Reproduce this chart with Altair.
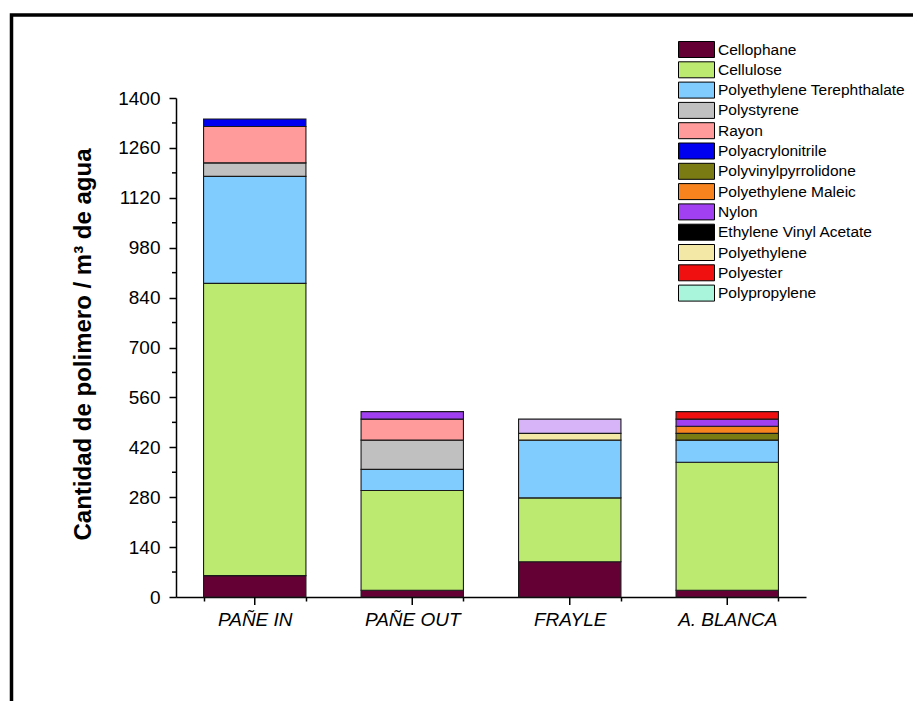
import altair as alt
import pandas as pd

sites = ["PAÑE IN", "PAÑE OUT", "FRAYLE", "A. BLANCA"]
polymers = ["Cellophane", "Cellulose", "Polyethylene Terephthalate", "Polystyrene",
            "Rayon", "Polyacrylonitrile", "Polyvinylpyrrolidone", "Polyethylene Maleic",
            "Nylon", "Ethylene Vinyl Acetate", "Polyethylene", "Polyester", "Polypropylene"]
colors = ["#650035", "#BCE970", "#80CCFF", "#C0C0C0", "#FF9B9B", "#0000F0", "#7B7B14",
          "#F7831F", "#A040F0", "#000000", "#F3E8A6", "#F01010", "#A8F5DC"]

# values per polymer, one per site (PAÑE IN, PAÑE OUT, FRAYLE, A. BLANCA)
cellophane = [60, 19, 99, 19]
cellulose = [820, 280, 179, 359]
pet = [300, 59, 162, 62]
polystyrene = [38, 82, 0, 0]
rayon = [102, 59, 0, 0]
polyacrylonitrile = [21, 0, 0, 0]
polyvinylpyrrolidone = [0, 0, 0, 19]
polyethylene_maleic = [0, 0, 0, 20]
nylon = [0, 21, 0, 20]
eva = [0, 0, 0, 0]
polyethylene = [0, 0, 19, 0]
polyester = [0, 0, 0, 21]
polypropylene = [0, 0, 40, 0]

series = [cellophane, cellulose, pet, polystyrene, rayon, polyacrylonitrile,
          polyvinylpyrrolidone, polyethylene_maleic, nylon, eva, polyethylene,
          polyester, polypropylene]

# the top segment of FRAYLE is drawn in lavender in the original
override_fill = {("FRAYLE", "Polypropylene"): "#D6B4F7"}

y_major = [0, 140, 280, 420, 560, 700, 840, 980, 1120, 1260, 1400]
y_minor = [70, 210, 350, 490, 630, 770, 910, 1050, 1190, 1330]

rows = []
for pi, (name, vals) in enumerate(zip(polymers, series)):
    for si, site in enumerate(sites):
        if vals[si] > 0:
            rows.append({"site": site, "polymer": name, "value": vals[si], "ord": pi,
                         "fill": override_fill.get((site, name), colors[pi])})
df = pd.DataFrame(rows)

W, H = 630, 499
FONT = "Liberation Sans"

xscale = alt.Scale(domain=sites, paddingInner=0.35, paddingOuter=0.175)
yscale = alt.Scale(domain=[0, 1400], nice=False)

frame = alt.Chart(pd.DataFrame({"a": [0]})).mark_rect(
    fillOpacity=0, stroke="black", strokeWidth=3.5
).encode(
    x=alt.value(-164.5), x2=alt.value(2000), y=alt.value(-83), y2=alt.value(2000)
)

bars = alt.Chart(df).mark_bar(stroke="#1a1a1a", strokeWidth=1.1).encode(
    x=alt.X("site:N", scale=xscale, sort=sites,
            axis=alt.Axis(title=None, tickBand="extent", tickSize=4, labelFontSize=19,
                          labelFont=FONT, labelFontStyle="italic", labelPadding=9,
                          labelAngle=0)),
    y=alt.Y("value:Q", stack="zero", scale=yscale,
            axis=alt.Axis(values=y_major, format="d", tickSize=7, labelFontSize=19,
                          labelFont=FONT, labelPadding=9,
                          title="Cantidad de polimero / m³ de agua",
                          titleFont=FONT, titleFontSize=24, titleFontWeight="bold",
                          titleX=-93, titleY=246, titleAngle=-90, titleBaseline="middle",
                          titleAlign="center")),
    fill=alt.Fill("fill:N", scale=None),
    order=alt.Order("ord:Q", sort="ascending"),
)

minor = alt.Chart(pd.DataFrame({"v": y_minor})).mark_rule(color="black", strokeWidth=1.5).encode(
    y=alt.Y("v:Q", scale=yscale), x=alt.value(0), x2=alt.value(-4)
)

major_x = alt.Chart(pd.DataFrame({"site": sites})).mark_rule(color="black", strokeWidth=1.5).encode(
    x=alt.X("site:N", scale=xscale, sort=sites), y=alt.value(H), y2=alt.value(H + 8)
)

legend_layer = alt.Chart(pd.DataFrame({"polymer": polymers})).mark_square(opacity=0).encode(
    color=alt.Color("polymer:N", scale=alt.Scale(domain=polymers, range=colors),
                    legend=alt.Legend(
                        title=None, orient="none", legendX=502, legendY=-57,
                        symbolType="M-2.25,-1L2.25,-1L2.25,1L-2.25,1Z", symbolSize=256,
                        symbolStrokeColor="black", symbolStrokeWidth=1, symbolOpacity=1,
                        symbolOffset=10, labelOffset=13, rowPadding=-0.7,
                        labelFont=FONT, labelFontSize=15.5, labelColor="black",
                        labelLimit=400))
)

chart = alt.layer(frame, bars, minor, major_x, legend_layer).properties(
    width=W, height=H,
    autosize=alt.AutoSizeParams(type="none"),
    padding={"left": 168, "top": 90, "right": 107, "bottom": 104},
).configure_view(stroke=None).configure_axis(
    grid=False, domainColor="black", domainWidth=1.5, tickColor="black", tickWidth=1.5,
    labelColor="black", titleColor="black"
)

chart.save("out.html", embed_options={"renderer": "svg", "actions": False})
